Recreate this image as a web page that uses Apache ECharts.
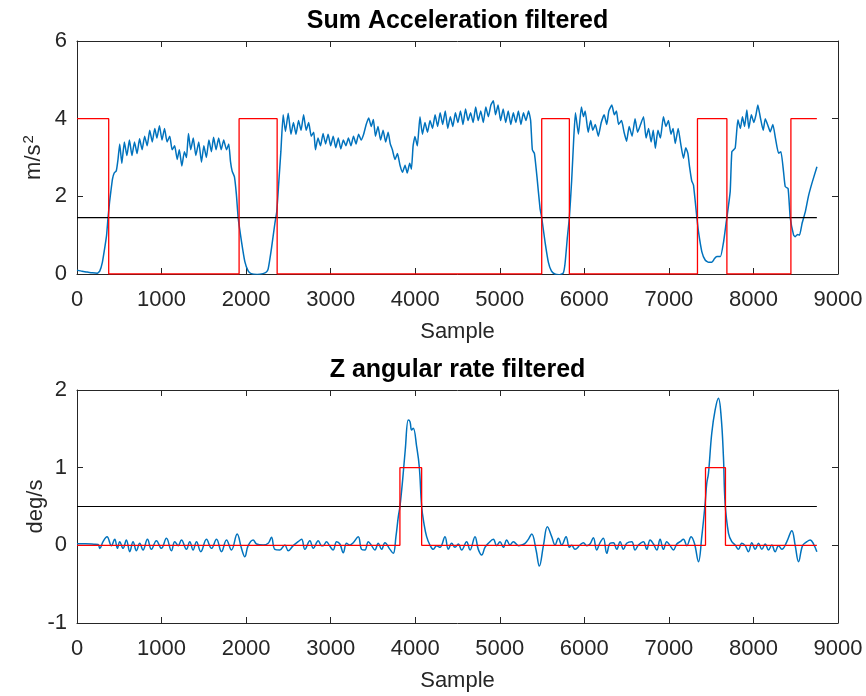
<!DOCTYPE html>
<html>
<head>
<meta charset="utf-8">
<script src="https://cdn.jsdelivr.net/npm/echarts@6/dist/echarts.min.js"></script>
<style>
  html, body { margin: 0; padding: 0; background: #fff; }
  #chart { width: 866px; height: 696px; }
</style>
</head>
<body>
<div id="chart"></div>
<script>
// Filtered sum of acceleration, [sample, m/s^2]
const accCurve = [
  [0,0.10],[60,0.07],[120,0.05],[180,0.03],[240,0.02],[270,0.08],[300,0.3],[330,0.7],[350,1.0],[367,1.45],
  [385,1.85],[400,2.12],[420,2.45],[440,2.6],[465,2.66],[485,2.95],[505,3.35],[530,2.85],[560,3.4],[590,3.05],
  [620,3.45],[650,3.05],[680,3.4],[710,3.1],[740,3.48],[770,3.2],[800,3.55],[830,3.3],[860,3.7],[890,3.4],
  [920,3.75],[945,3.5],[975,3.82],[1005,3.45],[1035,3.75],[1065,3.4],[1097,3.55],[1125,3.2],[1155,3.3],[1185,2.95],
  [1210,3.2],[1240,2.78],[1270,3.15],[1295,3.0],[1318,3.62],[1345,3.2],[1375,3.5],[1405,3.05],[1440,3.4],[1472,2.88],
  [1500,3.3],[1530,3.0],[1560,3.45],[1590,3.15],[1615,3.52],[1645,3.2],[1675,3.5],[1705,3.2],[1735,3.45],[1768,3.2],
  [1795,3.35],[1815,2.9],[1835,2.65],[1862,2.5],[1885,2.05],[1906,1.45],[1946,0.83],[1985,0.32],[2024,0.08],[2060,0.01],
  [2130,-0.01],[2200,0.01],[2240,0.05],[2261,0.13],[2300,0.66],[2340,1.3],[2362,1.6],[2387,2.38],[2411,3.15],[2438,4.1],
  [2465,3.67],[2498,4.14],[2530,3.6],[2560,3.9],[2590,3.6],[2620,3.95],[2650,3.7],[2680,4.1],[2710,3.7],[2740,3.9],
  [2770,3.55],[2800,3.65],[2820,3.2],[2850,3.5],[2880,3.3],[2910,3.62],[2940,3.35],[2970,3.6],[3000,3.3],[3030,3.55],
  [3060,3.25],[3090,3.5],[3120,3.22],[3150,3.45],[3180,3.3],[3210,3.5],[3240,3.3],[3270,3.55],[3300,3.35],[3330,3.6],
  [3360,3.45],[3390,3.6],[3420,3.85],[3450,4.02],[3480,3.8],[3505,3.98],[3530,3.55],[3560,3.8],[3590,3.45],[3620,3.7],
  [3650,3.4],[3680,3.65],[3705,3.35],[3730,3.2],[3760,2.95],[3790,3.1],[3820,2.8],[3850,2.62],[3880,2.8],[3905,2.6],
  [3935,2.85],[3955,2.7],[3975,3.3],[3997,3.54],[4025,3.3],[4056,4.05],[4085,3.6],[4115,3.9],[4145,3.65],[4175,3.95],
  [4205,3.75],[4235,4.1],[4265,3.8],[4295,4.15],[4325,3.85],[4355,4.2],[4385,3.75],[4415,4.05],[4445,3.8],[4475,4.15],
  [4505,3.9],[4535,4.2],[4565,3.85],[4595,4.25],[4625,3.95],[4655,4.15],[4685,3.9],[4715,4.3],[4745,3.95],[4775,4.2],
  [4805,3.9],[4835,4.3],[4865,4.05],[4895,4.35],[4924,4.46],[4950,4.1],[4980,4.35],[5010,3.95],[5040,4.25],[5070,3.9],
  [5100,4.2],[5130,3.85],[5160,4.15],[5190,3.9],[5220,4.2],[5250,3.85],[5280,4.15],[5310,3.95],[5340,4.2],[5365,3.95],
  [5385,3.2],[5410,3.1],[5440,2.5],[5476,1.69],[5496,1.45],[5535,0.83],[5575,0.3],[5610,0.08],[5650,0.0],[5700,-0.02],
  [5750,0.02],[5772,0.27],[5800,0.96],[5823,1.45],[5850,2.4],[5875,3.5],[5895,4.15],[5930,3.6],[5965,4.3],[5990,4.05],
  [6010,4.2],[6045,3.65],[6075,3.95],[6100,3.7],[6130,3.85],[6165,3.55],[6200,3.9],[6235,4.1],[6265,3.85],[6290,4.2],
  [6325,4.35],[6355,4.1],[6380,4.2],[6405,3.85],[6440,3.95],[6470,3.65],[6500,3.42],[6530,3.8],[6565,3.55],[6600,4.0],
  [6630,3.65],[6665,3.85],[6700,4.05],[6730,3.5],[6760,3.75],[6790,3.4],[6815,3.7],[6840,3.24],[6870,3.7],[6900,3.5],
  [6935,4.05],[6965,3.8],[6995,3.95],[7025,3.6],[7050,3.75],[7075,3.36],[7110,3.75],[7140,3.35],[7172,2.98],[7200,3.25],
  [7225,3.1],[7245,2.75],[7270,2.4],[7291,2.29],[7331,1.45],[7350,1.09],[7390,0.57],[7429,0.36],[7470,0.3],[7508,0.3],
  [7540,0.4],[7568,0.45],[7610,0.45],[7647,0.83],[7679,1.35],[7686,1.45],[7725,2.12],[7745,3.15],[7784,3.24],[7816,3.97],
  [7845,3.75],[7870,4.05],[7895,3.8],[7922,4.22],[7945,3.75],[7975,4.1],[8005,3.9],[8030,4.1],[8052,4.35],[8080,4.05],
  [8115,3.7],[8140,4.0],[8175,3.8],[8198,3.66],[8230,3.85],[8260,3.5],[8297,3.11],[8325,3.15],[8356,2.63],[8376,2.25],
  [8410,2.2],[8435,1.45],[8475,1.0],[8494,0.96],[8520,1.02],[8545,1.0],[8575,1.3],[8613,1.6],[8650,2.0],[8692,2.34],
  [8751,2.76]
];

// Filtered Z angular rate, [sample, deg/s]
const rateCurve = [
  [0,0.02],[100,0.02],[200,0.015],[250,0.01],[269,-0.04],[308,0.047],[355,0.11],[407,-0.004],[446,0.077],[478,-0.039],
  [505,0.047],[545,-0.039],[584,0.069],[624,-0.082],[663,0.047],[703,-0.069],[742,0.026],[781,-0.06],[833,0.077],[880,-0.052],
  [939,0.06],[998,-0.039],[1058,0.09],[1117,-0.069],[1156,0.047],[1196,-0.004],[1235,0.069],[1294,-0.052],[1334,0.047],[1373,-0.06],
  [1413,0.047],[1464,-0.082],[1531,0.077],[1590,-0.039],[1650,0.077],[1709,-0.082],[1768,0.069],[1827,-0.06],[1894,0.146],[1945,-0.039],
  [1985,-0.146],[2024,-0.004],[2083,0.069],[2123,0.017],[2202,0.004],[2261,0.026],[2300,0.103],[2340,-0.052],[2399,-0.06],[2458,0.004],
  [2498,-0.069],[2557,-0.004],[2616,0.047],[2656,0.077],[2695,-0.052],[2754,0.06],[2794,-0.039],[2853,0.06],[2892,-0.004],[2912,-0.004],
  [2951,0.047],[2991,-0.013],[3030,-0.06],[3070,0.047],[3109,0.017],[3149,-0.095],[3188,0.026],[3228,0.004],[3267,0.034],[3326,0.112],
  [3366,-0.052],[3405,-0.06],[3445,0.047],[3484,-0.004],[3523,-0.06],[3563,0.026],[3602,-0.052],[3642,0.034],[3701,-0.052],[3740,-0.103],
  [3772,0.112],[3800,0.369],[3819,0.498],[3851,0.84],[3882,1.228],[3918,1.614],[3938,1.593],[3957,1.485],[3977,1.507],[4017,1.27],
  [4048,1.012],[4076,0.498],[4103,0.283],[4135,0.112],[4174,0.004],[4214,-0.052],[4253,-0.004],[4293,-0.026],[4352,0.112],[4391,-0.052],
  [4431,0.026],[4470,-0.026],[4510,0.017],[4549,-0.06],[4608,0.047],[4648,-0.06],[4707,0.112],[4746,-0.052],[4786,-0.125],[4825,-0.026],
  [4865,0.026],[4924,0.077],[4963,-0.004],[5003,0.047],[5042,-0.026],[5082,0.069],[5121,0.004],[5161,0.047],[5220,-0.004],[5259,0.004],
  [5299,0.026],[5338,0.077],[5378,0.146],[5429,-0.06],[5468,-0.267],[5516,-0.004],[5563,0.24],[5614,0.112],[5654,0.004],[5693,0.09],
  [5733,0.004],[5784,0.112],[5823,-0.026],[5851,0.0],[5890,-0.052],[5949,0.004],[5989,0.034],[6028,-0.004],[6067,0.017],[6107,0.099],
  [6146,-0.06],[6186,0.034],[6225,0.09],[6265,-0.103],[6304,0.026],[6344,0.034],[6383,-0.052],[6423,0.047],[6462,-0.052],[6501,0.026],
  [6561,0.047],[6600,-0.06],[6640,0.004],[6699,0.047],[6738,-0.052],[6778,0.069],[6817,0.017],[6857,-0.06],[6896,0.077],[6935,-0.052],
  [6975,0.047],[7014,-0.004],[7054,-0.06],[7093,0.017],[7133,0.047],[7172,0.077],[7212,-0.004],[7263,0.112],[7302,0.026],[7350,-0.211],
  [7389,0.112],[7429,0.541],[7448,0.799],[7468,0.927],[7507,1.443],[7547,1.744],[7586,1.894],[7618,1.658],[7645,1.143],[7665,0.541],
  [7705,0.155],[7744,0.047],[7784,0.004],[7823,-0.052],[7862,0.026],[7902,-0.004],[7941,-0.082],[7981,0.034],[8020,-0.052],[8060,0.026],
  [8099,-0.052],[8139,0.017],[8178,-0.06],[8217,0.004],[8257,-0.082],[8296,-0.004],[8336,-0.052],[8395,0.047],[8454,0.189],[8494,-0.004],
  [8533,-0.211],[8581,-0.004],[8632,0.047],[8671,0.069],[8711,0.017],[8750,-0.082]
];

// Detection flags: [sample where the state starts, state level]
const accFlag = [[0,4],[375,0],[1917,4],[2367,0],[5496,4],[5823,0],[7338,4],[7686,0],[8443,4],[8750,4]];
const rateFlag = [[0,0],[3819,1],[4076,0],[7433,1],[7669,0],[8750,0]];

// Thresholds
const accThreshold = 1.45;
const rateThreshold = 0.5;
const lastSample = 8750;

// Axis ticks
const sampleTicks = { min: 0, max: 9000, interval: 1000 };
const accTicks = { min: 0, max: 6, interval: 2 };
const rateTicks = { min: -1, max: 2, interval: 1 };

const titles = ['Sum Acceleration filtered', 'Z angular rate filtered'];

const AX = '#262626';
const FONT = 'Liberation Sans, Arial, Helvetica, sans-serif';
const LBL = 22;

// Plot boxes
const PLOT_LEFT = 77, PLOT_RIGHT = 28, PLOT_H = 233;
const PLOT_TOP = [41, 390];
const plotCenterX = (866 - PLOT_LEFT - PLOT_RIGHT) / 2 + PLOT_LEFT;

const chart = echarts.init(document.getElementById('chart'), null, { renderer: 'canvas' });

const plainNumber = v => String(v);

function xAxes(g) {
  const common = {
    type: 'value', gridIndex: g, min: sampleTicks.min, max: sampleTicks.max, interval: sampleTicks.interval,
    axisLine: { show: true, onZero: false, lineStyle: { color: AX, width: 1 } },
    axisTick: { show: true, inside: true, length: 6, lineStyle: { color: AX, width: 1 } },
    splitLine: { show: false }
  };
  return [
    Object.assign({}, common, {
      position: 'bottom',
      axisLabel: { show: true, margin: 15, color: AX, fontSize: LBL, fontFamily: FONT, formatter: plainNumber },
      name: 'Sample', nameLocation: 'middle', nameGap: 47,
      nameTextStyle: { color: AX, fontSize: LBL, fontFamily: FONT }
    }),
    Object.assign({}, common, { position: 'top', axisLabel: { show: false } })
  ];
}

function yAxes(g, ticks, name, rich) {
  const common = {
    type: 'value', gridIndex: g, min: ticks.min, max: ticks.max, interval: ticks.interval,
    axisLine: { show: true, onZero: false, lineStyle: { color: AX, width: 1 } },
    axisTick: { show: true, inside: true, length: 6, lineStyle: { color: AX, width: 1 } },
    splitLine: { show: false }
  };
  const left = Object.assign({}, common, {
    position: 'left',
    axisLabel: { show: true, margin: 10, color: AX, fontSize: LBL, fontFamily: FONT, formatter: plainNumber },
    name: name, nameLocation: 'middle', nameGap: 30, nameRotate: 90, nameMoveOverlap: false,
    nameTextStyle: { color: AX, fontSize: LBL, fontFamily: FONT }
  });
  if (rich) left.nameTextStyle.rich = rich;
  return [left, Object.assign({}, common, { position: 'right', axisLabel: { show: false } })];
}

const supRich = {
  a: { color: AX, fontSize: LBL, fontFamily: FONT, lineHeight: 26 },
  b: { color: AX, fontSize: 15, fontFamily: FONT, lineHeight: 26, verticalAlign: 'top', padding: [0, 0, 0, 1] }
};

const option = {
  animation: false,
  backgroundColor: '#ffffff',
  grid: PLOT_TOP.map(t => ({ left: PLOT_LEFT, right: PLOT_RIGHT, top: t, height: PLOT_H, show: false, containLabel: false })),
  xAxis: [].concat(xAxes(0), xAxes(1)),
  yAxis: [].concat(yAxes(0, accTicks, '{a|m/s}{b|2}', supRich), yAxes(1, rateTicks, 'deg/s')),
  graphic: [
    { type: 'text', x: plotCenterX, y: 21, style: { text: titles[0], fill: '#000', font: 'bold 25px ' + FONT,
      textAlign: 'center', textVerticalAlign: 'middle', align: 'center', verticalAlign: 'middle' } },
    { type: 'text', x: plotCenterX, y: 370, style: { text: titles[1], fill: '#000', font: 'bold 25px ' + FONT,
      textAlign: 'center', textVerticalAlign: 'middle', align: 'center', verticalAlign: 'middle' } }
  ],
  series: [
    { type: 'line', xAxisIndex: 0, yAxisIndex: 0, data: accCurve, showSymbol: false, smooth: 0.15,
      lineStyle: { color: '#0072BD', width: 1.5 }, z: 2 },
    { type: 'line', xAxisIndex: 0, yAxisIndex: 0, data: [[0, accThreshold], [lastSample, accThreshold]], showSymbol: false,
      lineStyle: { color: '#000000', width: 1.2 }, z: 3 },
    { type: 'line', xAxisIndex: 0, yAxisIndex: 0, data: accFlag, step: 'end', showSymbol: false,
      lineStyle: { color: '#FF0000', width: 1.3 }, z: 4 },
    { type: 'line', xAxisIndex: 2, yAxisIndex: 2, data: rateCurve, showSymbol: false, smooth: 0.4,
      lineStyle: { color: '#0072BD', width: 1.5 }, z: 2 },
    { type: 'line', xAxisIndex: 2, yAxisIndex: 2, data: [[0, rateThreshold], [lastSample, rateThreshold]], showSymbol: false,
      lineStyle: { color: '#000000', width: 1.2 }, z: 3 },
    { type: 'line', xAxisIndex: 2, yAxisIndex: 2, data: rateFlag, step: 'end', showSymbol: false,
      lineStyle: { color: '#FF0000', width: 1.3 }, z: 4 }
  ]
};

chart.setOption(option);
</script>
</body>
</html>
